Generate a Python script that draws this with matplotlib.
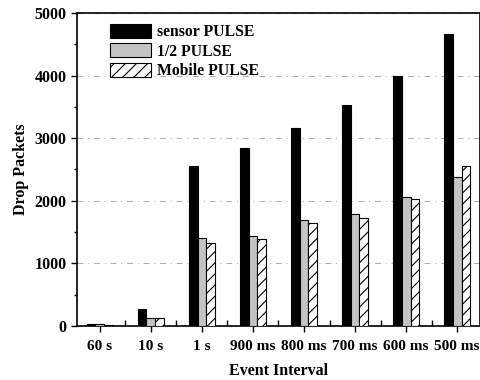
import numpy as np
import matplotlib.pyplot as plt
from matplotlib.ticker import MultipleLocator

plt.rcParams['font.family'] = ['Liberation Serif', 'DejaVu Serif']
plt.rcParams['font.weight'] = 'bold'
plt.rcParams['hatch.linewidth'] = 0.8

intervals = ['60 s', '10 s', '1 s', '900 ms', '800 ms', '700 ms', '600 ms', '500 ms']
sensor = [40, 270, 2556, 2840, 3160, 3530, 3990, 4670]
half = [25, 130, 1410, 1430, 1700, 1790, 2060, 2380]
mobile = [20, 130, 1330, 1390, 1650, 1720, 2030, 2560]

fig = plt.figure(figsize=(4.81, 3.80), dpi=100)
ax = fig.add_axes([0.160, 0.142, 0.838, 0.824])

x = np.arange(len(intervals))
w = 0.175
ax.bar(x - w, sensor, w, color='black', edgecolor='black', linewidth=0.8,
       label='sensor PULSE', zorder=3)
ax.bar(x, half, w, color='#c4c4c4', edgecolor='black', linewidth=0.8,
       label='1/2 PULSE', zorder=3)
ax.bar(x + w, mobile, w, color='white', edgecolor='black', linewidth=0.8,
       hatch='///', label='Mobile PULSE', zorder=3)

ax.set_xlim(-0.45, 7.45)
ax.set_ylim(0, 5000)
ax.set_xticks(x)
ax.set_xticklabels(intervals, fontsize=11, fontweight='bold')
ax.xaxis.set_minor_locator(MultipleLocator(1, offset=0.5))
ax.yaxis.set_major_locator(MultipleLocator(1000))
ax.yaxis.set_minor_locator(MultipleLocator(500))
for lab in ax.get_yticklabels():
    lab.set_fontsize(11.5)
    lab.set_fontweight('bold')
ax.tick_params(axis='both', which='major', direction='out', length=4, width=1)
ax.tick_params(axis='x', which='major', pad=6)
ax.tick_params(axis='x', which='minor', direction='in', length=4, width=1)
ax.tick_params(axis='y', which='minor', direction='out', length=2.5, width=1)

ax.grid(axis='y', which='major', linestyle=(0, (6, 5, 1, 5)), color='#aaaaaa',
        linewidth=0.7, zorder=0)
for s in ax.spines.values():
    s.set_linewidth(1.2)

ax.set_xlabel('Event Interval', fontsize=11.5, fontweight='bold', labelpad=7)
ax.set_ylabel('Drop Packets', fontsize=11.5, fontweight='bold', labelpad=4)

ax.legend(loc='upper left', bbox_to_anchor=(0.055, 1.0), frameon=False,
          fontsize=11.3, handlelength=2.6, handleheight=1.0, labelspacing=0.2,
          handletextpad=0.4, borderaxespad=0.3)

fig.savefig('out.png', dpi=100)
